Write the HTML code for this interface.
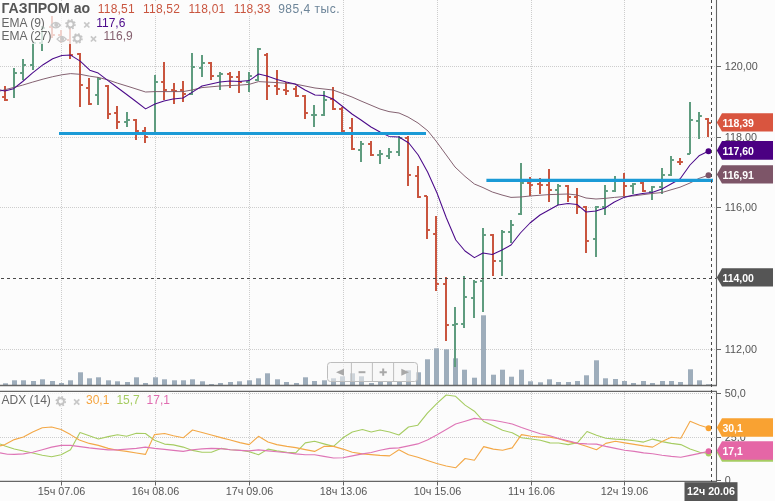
<!DOCTYPE html><html><head><meta charset="utf-8"><title>chart</title><style>html,body{margin:0;padding:0;background:#fcfcfc;overflow:hidden}svg{display:block;will-change:transform}text{font-family:"Liberation Sans",sans-serif}</style></head><body>
<svg width="775" height="501" viewBox="0 0 775 501">
<rect width="775" height="501" fill="#fcfcfc"/>
<g stroke="#cdcdcd" stroke-width="1" stroke-dasharray="1 1" fill="none">
<line x1="0" y1="66.5" x2="716" y2="66.5"/>
<line x1="0" y1="137.5" x2="716" y2="137.5"/>
<line x1="0" y1="207.5" x2="716" y2="207.5"/>
<line x1="0" y1="349.5" x2="716" y2="349.5"/>
<line x1="0" y1="393.5" x2="716" y2="393.5"/>
<line x1="0" y1="437.5" x2="716" y2="437.5"/>
</g>
<g stroke="#cdcdcd" stroke-width="1" stroke-dasharray="1 1" fill="none">
<line x1="61.5" y1="0" x2="61.5" y2="385"/>
<line x1="61.5" y1="392" x2="61.5" y2="481"/>
<line x1="155.5" y1="0" x2="155.5" y2="385"/>
<line x1="155.5" y1="392" x2="155.5" y2="481"/>
<line x1="249.5" y1="0" x2="249.5" y2="385"/>
<line x1="249.5" y1="392" x2="249.5" y2="481"/>
<line x1="343.5" y1="0" x2="343.5" y2="385"/>
<line x1="343.5" y1="392" x2="343.5" y2="481"/>
<line x1="437.5" y1="0" x2="437.5" y2="385"/>
<line x1="437.5" y1="392" x2="437.5" y2="481"/>
<line x1="531.5" y1="0" x2="531.5" y2="385"/>
<line x1="531.5" y1="392" x2="531.5" y2="481"/>
<line x1="624.5" y1="0" x2="624.5" y2="385"/>
<line x1="624.5" y1="392" x2="624.5" y2="481"/>
</g>
<g fill="#9eadbb">
<rect x="3" y="383.3" width="5" height="2.0"/>
<rect x="12" y="380.3" width="5" height="5.0"/>
<rect x="21" y="380.3" width="5" height="5.0"/>
<rect x="31" y="381.0" width="5" height="4.3"/>
<rect x="40" y="379.3" width="5" height="6.0"/>
<rect x="50" y="381.0" width="5" height="4.3"/>
<rect x="59" y="383.0" width="5" height="2.3"/>
<rect x="68" y="380.3" width="5" height="5.0"/>
<rect x="78" y="372.3" width="5" height="13.0"/>
<rect x="87" y="378.3" width="5" height="7.0"/>
<rect x="96" y="377.3" width="5" height="8.0"/>
<rect x="106" y="380.3" width="5" height="5.0"/>
<rect x="115" y="381.3" width="5" height="4.0"/>
<rect x="125" y="382.0" width="5" height="3.3"/>
<rect x="134" y="377.3" width="5" height="8.0"/>
<rect x="143" y="383.0" width="5" height="2.3"/>
<rect x="153" y="377.3" width="5" height="8.0"/>
<rect x="162" y="379.3" width="5" height="6.0"/>
<rect x="172" y="380.3" width="5" height="5.0"/>
<rect x="181" y="380.3" width="5" height="5.0"/>
<rect x="190" y="379.3" width="5" height="6.0"/>
<rect x="200" y="381.3" width="5" height="4.0"/>
<rect x="209" y="384.0" width="5" height="1.3"/>
<rect x="218" y="383.0" width="5" height="2.3"/>
<rect x="228" y="382.0" width="5" height="3.3"/>
<rect x="237" y="381.3" width="5" height="4.0"/>
<rect x="247" y="380.3" width="5" height="5.0"/>
<rect x="256" y="378.3" width="5" height="7.0"/>
<rect x="265" y="373.3" width="5" height="12.0"/>
<rect x="275" y="379.3" width="5" height="6.0"/>
<rect x="284" y="382.0" width="5" height="3.3"/>
<rect x="294" y="383.0" width="5" height="2.3"/>
<rect x="303" y="377.3" width="5" height="8.0"/>
<rect x="312" y="381.0" width="5" height="4.3"/>
<rect x="322" y="380.3" width="5" height="5.0"/>
<rect x="331" y="378.3" width="5" height="7.0"/>
<rect x="340" y="376.3" width="5" height="9.0"/>
<rect x="350" y="373.3" width="5" height="12.0"/>
<rect x="359" y="376.3" width="5" height="9.0"/>
<rect x="369" y="383.0" width="5" height="2.3"/>
<rect x="378" y="381.3" width="5" height="4.0"/>
<rect x="387" y="381.3" width="5" height="4.0"/>
<rect x="397" y="381.3" width="5" height="4.0"/>
<rect x="406" y="370.3" width="5" height="15.0"/>
<rect x="416" y="372.3" width="5" height="13.0"/>
<rect x="425" y="359.3" width="5" height="26.0"/>
<rect x="434" y="348.3" width="5" height="37.0"/>
<rect x="444" y="349.3" width="5" height="36.0"/>
<rect x="453" y="358.3" width="5" height="27.0"/>
<rect x="462" y="369.7" width="5" height="15.6"/>
<rect x="472" y="377.7" width="5" height="7.6"/>
<rect x="481" y="315.3" width="5" height="70.0"/>
<rect x="491" y="374.7" width="5" height="10.6"/>
<rect x="500" y="369.7" width="5" height="15.6"/>
<rect x="509" y="376.7" width="5" height="8.6"/>
<rect x="519" y="369.7" width="5" height="15.6"/>
<rect x="528" y="381.3" width="5" height="4.0"/>
<rect x="538" y="382.3" width="5" height="3.0"/>
<rect x="547" y="379.3" width="5" height="6.0"/>
<rect x="556" y="382.0" width="5" height="3.3"/>
<rect x="566" y="382.0" width="5" height="3.3"/>
<rect x="575" y="381.0" width="5" height="4.3"/>
<rect x="584" y="375.3" width="5" height="10.0"/>
<rect x="594" y="360.3" width="5" height="25.0"/>
<rect x="603" y="378.3" width="5" height="7.0"/>
<rect x="613" y="379.0" width="5" height="6.3"/>
<rect x="622" y="381.0" width="5" height="4.3"/>
<rect x="631" y="383.0" width="5" height="2.3"/>
<rect x="641" y="381.0" width="5" height="4.3"/>
<rect x="650" y="383.0" width="5" height="2.3"/>
<rect x="660" y="381.0" width="5" height="4.3"/>
<rect x="669" y="381.0" width="5" height="4.3"/>
<rect x="678" y="382.0" width="5" height="3.3"/>
<rect x="688" y="369.3" width="5" height="16.0"/>
<rect x="697" y="380.3" width="5" height="5.0"/>
<rect x="706" y="384.3" width="5" height="1.0"/>
</g>
<path d="M5.0 86.0V101.0M2.1 97.0H5.0M5.0 100.0H7.9" stroke="#c9553f" stroke-width="2" fill="none"/>
<path d="M14.0 68.0V98.0M14.0 73.0H16.9" stroke="#5f9c7f" stroke-width="2" fill="none"/>
<path d="M23.0 59.0V80.0M20.1 73.0H23.0M23.0 65.0H25.9" stroke="#5f9c7f" stroke-width="2" fill="none"/>
<path d="M33.0 41.0V70.0M30.1 65.0H33.0M33.0 43.0H35.9" stroke="#5f9c7f" stroke-width="2" fill="none"/>
<path d="M42.0 26.0V51.0M39.1 43.0H42.0M42.0 28.0H44.9" stroke="#5f9c7f" stroke-width="2" fill="none"/>
<path d="M52.0 16.0V38.0M49.1 27.0H52.0M52.0 35.0H54.9" stroke="#c9553f" stroke-width="2" fill="none"/>
<path d="M61.0 30.0V43.0M58.1 35.0H61.0M61.0 40.0H63.9" stroke="#c9553f" stroke-width="2" fill="none"/>
<path d="M70.0 28.0V59.0M67.1 40.0H70.0M70.0 55.0H72.9" stroke="#c9553f" stroke-width="2" fill="none"/>
<path d="M80.0 53.0V107.0M77.1 54.0H80.0M80.0 85.0H82.9" stroke="#c9553f" stroke-width="2" fill="none"/>
<path d="M89.0 78.0V105.0M86.1 88.0H89.0M89.0 104.0H91.9" stroke="#c9553f" stroke-width="2" fill="none"/>
<path d="M98.0 77.0V105.0M95.1 95.0H98.0M98.0 79.0H100.9" stroke="#5f9c7f" stroke-width="2" fill="none"/>
<path d="M108.0 85.0V119.0M105.1 86.0H108.0M108.0 114.0H110.9" stroke="#c9553f" stroke-width="2" fill="none"/>
<path d="M117.0 106.0V129.0M114.1 113.0H117.0M117.0 122.0H119.9" stroke="#c9553f" stroke-width="2" fill="none"/>
<path d="M127.0 112.0V127.0M124.1 122.0H127.0M127.0 120.0H129.9" stroke="#5f9c7f" stroke-width="2" fill="none"/>
<path d="M136.0 119.0V140.0M133.1 120.0H136.0M136.0 131.0H138.9" stroke="#c9553f" stroke-width="2" fill="none"/>
<path d="M145.0 127.0V143.0M142.1 131.0H145.0M145.0 137.0H147.9" stroke="#c9553f" stroke-width="2" fill="none"/>
<path d="M155.0 75.0V133.0M152.1 134.0H155.0M155.0 82.0H157.9" stroke="#5f9c7f" stroke-width="2" fill="none"/>
<path d="M164.0 62.0V100.0M161.1 82.0H164.0M164.0 90.0H166.9" stroke="#c9553f" stroke-width="2" fill="none"/>
<path d="M174.0 83.0V104.0M171.1 90.0H174.0M174.0 91.0H176.9" stroke="#c9553f" stroke-width="2" fill="none"/>
<path d="M183.0 81.0V102.0M180.1 90.0H183.0M183.0 94.0H185.9" stroke="#c9553f" stroke-width="2" fill="none"/>
<path d="M192.0 53.0V95.0M189.1 94.0H192.0M192.0 67.0H194.9" stroke="#5f9c7f" stroke-width="2" fill="none"/>
<path d="M202.0 55.0V77.0M199.1 68.0H202.0M202.0 63.0H204.9" stroke="#5f9c7f" stroke-width="2" fill="none"/>
<path d="M211.0 62.0V80.0M208.1 63.0H211.0M211.0 76.0H213.9" stroke="#c9553f" stroke-width="2" fill="none"/>
<path d="M220.0 72.0V90.0M217.1 76.0H220.0M220.0 74.0H222.9" stroke="#5f9c7f" stroke-width="2" fill="none"/>
<path d="M230.0 72.0V88.0M227.1 74.0H230.0M230.0 77.0H232.9" stroke="#c9553f" stroke-width="2" fill="none"/>
<path d="M239.0 71.0V93.0M236.1 77.0H239.0M239.0 82.0H241.9" stroke="#c9553f" stroke-width="2" fill="none"/>
<path d="M249.0 72.0V92.0M246.1 82.0H249.0M249.0 76.0H251.9" stroke="#5f9c7f" stroke-width="2" fill="none"/>
<path d="M258.0 48.0V81.0M255.1 80.0H258.0M258.0 49.0H260.9" stroke="#5f9c7f" stroke-width="2" fill="none"/>
<path d="M267.0 53.0V100.0M264.1 55.0H267.0M267.0 86.0H269.9" stroke="#c9553f" stroke-width="2" fill="none"/>
<path d="M277.0 70.0V95.0M274.1 86.0H277.0M277.0 89.0H279.9" stroke="#c9553f" stroke-width="2" fill="none"/>
<path d="M286.0 82.0V95.0M283.1 90.0H286.0M286.0 91.0H288.9" stroke="#c9553f" stroke-width="2" fill="none"/>
<path d="M296.0 86.0V97.0M293.1 89.0H296.0M296.0 96.0H298.9" stroke="#c9553f" stroke-width="2" fill="none"/>
<path d="M305.0 95.0V119.0M302.1 96.0H305.0M305.0 113.0H307.9" stroke="#c9553f" stroke-width="2" fill="none"/>
<path d="M314.0 105.0V127.0M311.1 115.0H314.0M314.0 115.0H316.9" stroke="#5f9c7f" stroke-width="2" fill="none"/>
<path d="M324.0 91.0V116.0M321.1 115.0H324.0M324.0 100.0H326.9" stroke="#5f9c7f" stroke-width="2" fill="none"/>
<path d="M333.0 87.0V110.0M330.1 99.0H333.0M333.0 109.0H335.9" stroke="#c9553f" stroke-width="2" fill="none"/>
<path d="M342.0 107.0V132.0M339.1 109.0H342.0M342.0 131.0H344.9" stroke="#c9553f" stroke-width="2" fill="none"/>
<path d="M352.0 118.0V150.0M349.1 128.0H352.0M352.0 149.0H354.9" stroke="#c9553f" stroke-width="2" fill="none"/>
<path d="M361.0 141.0V162.0M358.1 150.0H361.0M361.0 144.0H363.9" stroke="#5f9c7f" stroke-width="2" fill="none"/>
<path d="M371.0 141.0V156.0M368.1 144.0H371.0M371.0 155.0H373.9" stroke="#c9553f" stroke-width="2" fill="none"/>
<path d="M380.0 150.0V164.0M377.1 155.0H380.0M380.0 154.0H382.9" stroke="#5f9c7f" stroke-width="2" fill="none"/>
<path d="M389.0 148.0V159.0M386.1 156.0H389.0M389.0 152.0H391.9" stroke="#5f9c7f" stroke-width="2" fill="none"/>
<path d="M399.0 136.0V156.0M396.1 152.0H399.0M399.0 138.0H401.9" stroke="#5f9c7f" stroke-width="2" fill="none"/>
<path d="M408.0 136.0V186.0M405.1 138.0H408.0M408.0 175.0H410.9" stroke="#c9553f" stroke-width="2" fill="none"/>
<path d="M418.0 166.0V198.0M415.1 176.0H418.0M418.0 197.0H420.9" stroke="#c9553f" stroke-width="2" fill="none"/>
<path d="M427.0 196.0V239.0M424.1 196.0H427.0M427.0 230.0H429.9" stroke="#c9553f" stroke-width="2" fill="none"/>
<path d="M436.0 216.0V291.0M433.1 234.0H436.0M436.0 284.0H438.9" stroke="#c9553f" stroke-width="2" fill="none"/>
<path d="M446.0 277.0V341.0M443.1 284.0H446.0M446.0 325.0H448.9" stroke="#c9553f" stroke-width="2" fill="none"/>
<path d="M455.0 307.0V367.0M452.1 325.0H455.0M455.0 324.0H457.9" stroke="#5f9c7f" stroke-width="2" fill="none"/>
<path d="M464.0 276.0V328.0M461.1 324.0H464.0M464.0 297.0H466.9" stroke="#5f9c7f" stroke-width="2" fill="none"/>
<path d="M474.0 280.0V318.0M471.1 298.0H474.0M474.0 282.0H476.9" stroke="#5f9c7f" stroke-width="2" fill="none"/>
<path d="M483.0 228.0V312.0M480.1 281.0H483.0M483.0 235.0H485.9" stroke="#5f9c7f" stroke-width="2" fill="none"/>
<path d="M493.0 234.0V276.0M490.1 235.0H493.0M493.0 261.0H495.9" stroke="#c9553f" stroke-width="2" fill="none"/>
<path d="M502.0 230.0V276.0M499.1 261.0H502.0M502.0 232.0H504.9" stroke="#5f9c7f" stroke-width="2" fill="none"/>
<path d="M511.0 220.0V243.0M508.1 232.0H511.0M511.0 225.0H513.9" stroke="#5f9c7f" stroke-width="2" fill="none"/>
<path d="M521.0 163.0V215.0M518.1 214.0H521.0M521.0 183.0H523.9" stroke="#5f9c7f" stroke-width="2" fill="none"/>
<path d="M530.0 177.0V196.0M527.1 183.0H530.0M530.0 185.0H532.9" stroke="#c9553f" stroke-width="2" fill="none"/>
<path d="M540.0 178.0V194.0M537.1 184.0H540.0M540.0 185.0H542.9" stroke="#c9553f" stroke-width="2" fill="none"/>
<path d="M549.0 169.0V202.0M546.1 185.0H549.0M549.0 190.0H551.9" stroke="#c9553f" stroke-width="2" fill="none"/>
<path d="M558.0 184.0V205.0M555.1 190.0H558.0M558.0 186.0H560.9" stroke="#5f9c7f" stroke-width="2" fill="none"/>
<path d="M568.0 185.0V202.0M565.1 186.0H568.0M568.0 197.0H570.9" stroke="#c9553f" stroke-width="2" fill="none"/>
<path d="M577.0 188.0V214.0M574.1 197.0H577.0M577.0 207.0H579.9" stroke="#c9553f" stroke-width="2" fill="none"/>
<path d="M586.0 206.0V253.0M583.1 207.0H586.0M586.0 241.0H588.9" stroke="#c9553f" stroke-width="2" fill="none"/>
<path d="M596.0 206.0V257.0M593.1 239.0H596.0M596.0 207.0H598.9" stroke="#5f9c7f" stroke-width="2" fill="none"/>
<path d="M605.0 185.0V215.0M602.1 207.0H605.0M605.0 191.0H607.9" stroke="#5f9c7f" stroke-width="2" fill="none"/>
<path d="M615.0 176.0V192.0M612.1 191.0H615.0M615.0 180.0H617.9" stroke="#5f9c7f" stroke-width="2" fill="none"/>
<path d="M624.0 173.0V196.0M621.1 180.0H624.0M624.0 186.0H626.9" stroke="#c9553f" stroke-width="2" fill="none"/>
<path d="M633.0 183.0V194.0M630.1 186.0H633.0M633.0 184.0H635.9" stroke="#5f9c7f" stroke-width="2" fill="none"/>
<path d="M643.0 182.0V192.0M640.1 183.0H643.0M643.0 191.0H645.9" stroke="#c9553f" stroke-width="2" fill="none"/>
<path d="M652.0 186.0V200.0M649.1 192.0H652.0M652.0 187.0H654.9" stroke="#5f9c7f" stroke-width="2" fill="none"/>
<path d="M662.0 168.0V194.0M659.1 187.0H662.0M662.0 175.0H664.9" stroke="#5f9c7f" stroke-width="2" fill="none"/>
<path d="M671.0 156.0V176.0M668.1 175.0H671.0M671.0 160.0H673.9" stroke="#5f9c7f" stroke-width="2" fill="none"/>
<path d="M680.0 158.0V165.0M677.1 162.0H680.0M680.0 162.0H682.9" stroke="#c9553f" stroke-width="2" fill="none"/>
<path d="M690.0 102.0V154.0M687.1 154.0H690.0M690.0 120.0H692.9" stroke="#5f9c7f" stroke-width="2" fill="none"/>
<path d="M699.0 112.0V139.0M696.1 121.0H699.0M699.0 116.0H701.9" stroke="#5f9c7f" stroke-width="2" fill="none"/>
<path d="M708.0 118.0V137.0M705.1 119.0H708.0M708.0 123.0H710.9" stroke="#c9553f" stroke-width="2" fill="none"/>
<polyline points="0.0,91.0 13.6,87.5 22.7,85.1 32.3,82.2 43.1,79.1 52.7,76.7 61.8,74.8 70.6,73.6 80.2,74.3 89.8,76.2 98.2,77.4 107.7,79.8 117.3,83.1 130.0,87.0 145.6,92.0 155.0,91.6 183.0,91.6 192.0,90.0 202.0,87.6 220.0,86.0 239.0,85.2 249.0,84.4 258.6,81.6 277.0,82.6 295.0,84.0 315.0,88.0 324.0,89.0 333.0,90.0 343.0,93.6 352.0,97.0 361.0,101.0 380.0,109.0 389.0,111.6 399.0,113.0 408.0,117.0 418.0,123.0 428.0,131.0 436.0,141.0 447.0,156.0 455.0,167.0 465.0,176.4 474.4,184.0 483.0,187.6 492.3,192.0 502.0,195.0 511.0,197.4 520.4,197.0 530.0,196.0 549.0,194.6 568.0,194.0 577.0,195.0 586.0,198.0 596.0,199.0 605.0,198.4 614.4,197.4 624.0,196.6 632.6,196.0 652.0,193.5 662.0,192.5 671.0,189.8 680.0,187.2 690.0,183.0 699.0,178.4 708.3,175.3" fill="none" stroke="#7d5a69" stroke-width="0.95" stroke-linejoin="round"/>
<polyline points="0.0,89.9 4.8,91.0 13.6,88.7 22.7,81.5 32.3,73.1 43.1,64.7 52.7,58.7 61.8,55.4 70.6,55.1 80.2,61.1 89.8,70.2 98.2,73.1 107.7,80.3 117.3,87.5 126.7,94.5 136.0,101.5 145.6,108.9 155.0,104.0 164.0,101.0 173.0,99.0 183.0,98.0 192.0,92.4 202.0,86.0 211.0,84.0 220.0,82.0 230.0,81.0 239.0,81.4 249.0,80.6 258.6,74.0 267.0,76.0 277.0,79.4 286.3,82.0 295.0,84.0 305.0,90.0 315.0,95.0 324.0,95.6 333.0,99.0 342.0,106.0 352.0,114.0 361.0,120.0 371.0,127.0 380.0,132.0 389.0,136.4 399.0,137.0 408.8,143.0 418.2,155.0 427.6,172.0 437.0,193.0 446.4,218.0 455.8,240.0 465.0,251.0 474.4,257.6 483.0,253.0 492.3,254.4 502.0,250.0 511.0,245.0 520.4,233.0 530.0,223.0 540.0,215.0 549.0,210.0 558.0,205.0 568.0,203.6 577.0,204.4 586.0,212.0 596.0,211.0 605.0,208.0 614.4,202.0 624.0,197.4 632.6,195.2 642.6,193.5 652.0,192.5 662.0,189.0 671.0,184.0 680.0,179.0 690.0,165.0 699.0,155.8 708.3,151.2" fill="none" stroke="#4b0a8a" stroke-width="1.05" stroke-linejoin="round"/>
<circle cx="708.5" cy="151.2" r="3" fill="#4b0082"/><circle cx="708.5" cy="175.2" r="3" fill="#7d5568"/>
<line x1="59" y1="133.5" x2="426" y2="133.5" stroke="#1b9ad6" stroke-width="3.2"/>
<line x1="486.4" y1="180.4" x2="713" y2="180.4" stroke="#1b9ad6" stroke-width="3.2"/>
<polyline points="0.0,443.9 5.0,445.9 14.3,449.0 23.4,451.0 32.7,453.0 42.3,455.2 51.6,456.7 61.1,454.7 70.5,449.7 80.0,432.5 89.3,435.8 98.4,439.0 108.2,436.6 117.5,434.8 126.6,436.3 136.4,433.3 145.4,433.5 154.5,440.3 164.6,444.1 173.4,444.9 183.2,447.1 192.5,450.4 202.1,452.2 211.4,452.2 221.0,448.4 230.3,449.7 239.9,450.2 249.2,451.7 258.5,454.7 268.0,449.1 276.8,450.9 286.9,452.2 295.7,452.9 305.3,442.9 314.6,441.3 323.9,443.9 333.5,446.4 343.0,437.8 352.3,432.0 362.4,429.5 371.2,432.0 380.0,430.0 389.6,432.0 398.9,435.0 408.5,427.0 417.8,425.2 427.4,413.2 436.7,403.6 446.2,395.0 455.6,396.3 465.1,405.1 474.4,411.2 483.7,421.5 493.3,425.7 502.6,430.3 512.2,432.8 521.5,437.8 531.0,439.0 540.4,440.3 549.9,442.9 558.7,443.0 568.1,444.6 577.6,442.6 587.0,431.5 596.5,435.3 605.8,438.3 615.4,439.1 624.7,439.6 634.3,440.8 643.6,442.1 652.6,439.1 662.0,441.6 671.3,443.4 680.8,444.6 690.1,449.1 699.7,452.2 708.6,453.4" fill="none" stroke="#a6cc62" stroke-width="1.1" stroke-linejoin="round"/>
<polyline points="0.0,445.9 5.0,444.6 14.3,439.6 23.4,437.0 32.7,432.0 42.3,427.8 51.6,427.0 61.1,429.5 70.5,434.6 79.3,440.0 89.3,443.4 98.4,445.4 108.2,448.4 117.5,450.2 126.6,451.4 136.4,453.0 145.4,454.4 154.5,434.6 164.6,433.5 173.4,435.8 183.2,437.8 192.5,430.0 202.1,432.5 211.4,435.0 221.0,437.6 230.3,440.0 239.9,442.6 249.2,444.6 258.5,436.3 268.0,442.0 276.8,444.6 286.9,446.4 295.7,447.6 305.3,449.6 314.6,451.4 323.9,446.4 333.5,446.4 343.0,449.1 352.3,452.2 362.4,453.9 371.2,454.6 380.0,455.4 389.6,455.9 398.9,449.7 408.5,454.7 417.8,457.2 427.4,460.5 436.7,463.5 446.2,466.0 455.6,467.8 465.1,458.5 474.4,460.2 483.7,446.6 493.3,449.1 502.6,450.2 512.2,447.9 521.5,434.6 531.0,436.3 540.4,437.1 549.9,437.1 558.7,438.8 568.1,441.6 577.6,443.4 587.0,446.4 596.5,449.7 605.8,443.4 615.4,441.3 624.7,442.9 634.3,444.4 643.6,445.9 652.6,447.1 662.0,441.6 671.3,437.3 680.8,438.3 690.1,421.2 699.7,425.2 708.6,428.0" fill="none" stroke="#f3a847" stroke-width="1.1" stroke-linejoin="round"/>
<polyline points="0.0,452.9 7.5,454.2 14.3,454.4 23.4,453.9 32.7,452.2 42.3,449.7 51.6,447.1 61.1,445.4 70.5,445.4 80.0,446.6 89.3,447.9 98.4,448.9 108.2,449.9 117.5,449.9 126.6,449.1 136.4,448.4 145.4,447.1 154.5,448.4 164.6,449.4 173.4,450.4 183.2,451.4 192.5,449.7 202.1,448.9 211.4,448.4 221.0,448.6 230.3,449.7 239.9,450.4 249.2,450.9 258.5,449.9 268.0,450.9 276.8,451.7 286.9,452.7 295.7,453.9 305.3,454.7 314.6,454.7 323.9,456.4 333.5,458.0 343.0,457.7 352.3,455.9 362.4,453.9 371.2,452.5 380.0,450.2 389.6,448.4 398.9,447.9 408.5,445.9 417.8,443.9 427.4,440.0 436.7,435.0 446.2,429.5 455.6,424.0 465.1,421.2 474.4,418.4 483.7,419.5 493.3,420.2 502.6,422.0 512.2,424.0 521.5,427.5 531.0,430.8 540.4,433.8 549.9,435.8 558.7,438.6 568.1,440.8 577.6,443.4 587.0,443.9 596.5,444.1 605.8,446.4 615.4,448.4 624.7,450.2 634.3,451.4 643.6,452.9 652.6,453.7 662.0,455.2 671.3,456.4 680.8,457.2 690.1,455.4 699.7,453.4 708.6,451.2" fill="none" stroke="#de75b6" stroke-width="1.1" stroke-linejoin="round"/>
<circle cx="708.6" cy="453.6" r="3" fill="#a6cc62"/><circle cx="708.6" cy="428.2" r="3" fill="#f9a232"/><circle cx="708.6" cy="451.2" r="3" fill="#e365a5"/>
<g stroke="#666" fill="none">
<line x1="0" y1="385.5" x2="717" y2="385.5" stroke-width="1.4"/>
<line x1="0" y1="391.4" x2="717" y2="391.4" stroke-width="1.2"/>
<line x1="0" y1="481.4" x2="717" y2="481.4" stroke-width="1.3"/>
<line x1="716.5" y1="0" x2="716.5" y2="385.5" stroke-width="1.1"/>
<line x1="716.5" y1="391.4" x2="716.5" y2="482" stroke-width="1.1"/>
<line x1="716.5" y1="66.5" x2="721" y2="66.5" stroke-width="1"/>
<line x1="716.5" y1="137.5" x2="721" y2="137.5" stroke-width="1"/>
<line x1="716.5" y1="207.5" x2="721" y2="207.5" stroke-width="1"/>
<line x1="716.5" y1="349.5" x2="721" y2="349.5" stroke-width="1"/>
<line x1="716.5" y1="393.5" x2="721" y2="393.5" stroke-width="1"/>
<line x1="716.5" y1="437.5" x2="721" y2="437.5" stroke-width="1"/>
<line x1="716.5" y1="480.5" x2="721" y2="480.5" stroke-width="1"/>
<line x1="61.5" y1="481.4" x2="61.5" y2="485.5" stroke-width="1"/>
<line x1="155.5" y1="481.4" x2="155.5" y2="485.5" stroke-width="1"/>
<line x1="249.5" y1="481.4" x2="249.5" y2="485.5" stroke-width="1"/>
<line x1="343.5" y1="481.4" x2="343.5" y2="485.5" stroke-width="1"/>
<line x1="437.5" y1="481.4" x2="437.5" y2="485.5" stroke-width="1"/>
<line x1="531.5" y1="481.4" x2="531.5" y2="485.5" stroke-width="1"/>
<line x1="624.5" y1="481.4" x2="624.5" y2="485.5" stroke-width="1"/>
</g>
<line x1="711.5" y1="0" x2="711.5" y2="482" stroke="#4a4a4a" stroke-width="1" stroke-dasharray="3 3"/>
<line x1="1" y1="278.5" x2="716" y2="278.5" stroke="#4a4a4a" stroke-width="1" stroke-dasharray="3 3"/>
<g font-size="10.8" fill="#555">
<text x="724.7" y="70.0">120,00</text>
<text x="724.7" y="140.8">118,00</text>
<text x="724.7" y="211.2">116,00</text>
<text x="724.7" y="352.8">112,00</text>
<text x="724.7" y="397.1">50,0</text>
<text x="724.7" y="441.1">25,0</text>
<text x="724.7" y="484.1">0</text>
<text x="61.5" y="495" text-anchor="middle">15ч 07.06</text>
<text x="155.5" y="495" text-anchor="middle">16ч 08.06</text>
<text x="249.5" y="495" text-anchor="middle">17ч 09.06</text>
<text x="343.5" y="495" text-anchor="middle">18ч 13.06</text>
<text x="437.5" y="495" text-anchor="middle">10ч 15.06</text>
<text x="531.5" y="495" text-anchor="middle">11ч 16.06</text>
<text x="624.5" y="495" text-anchor="middle">12ч 19.06</text>
</g>
<path d="M716.8 122.4L722 113.2H773V131.6H722Z" fill="#d9553f"/>
<text x="722.4" y="127.0" font-size="10.5" font-weight="bold" fill="#fff">118,39</text>
<path d="M716.8 150.4L722 141.1H773V159.7H722Z" fill="#4b0082"/>
<text x="722.4" y="155.0" font-size="10.5" font-weight="bold" fill="#fff">117,60</text>
<path d="M716.8 174.4L722 165.2H773V183.6H722Z" fill="#7d5568"/>
<text x="722.4" y="179.0" font-size="10.5" font-weight="bold" fill="#fff">116,91</text>
<path d="M716.8 277.4L722 268.2H773V286.5H722Z" fill="#555555"/>
<text x="722.4" y="282.0" font-size="10.5" font-weight="bold" fill="#fff">114,00</text>
<path d="M716.8 452.5L722 443.2H773V461.8H722Z" fill="#a6cc62"/>
<text x="722.4" y="457.1" font-size="10.5" font-weight="bold" fill="#fff">15,7</text>
<path d="M716.8 427.5L722 418.3H773V436.7H722Z" fill="#f9a232"/>
<text x="722.4" y="432.1" font-size="10.5" font-weight="bold" fill="#fff">30,1</text>
<path d="M716.8 450.5L722 441.2H773V459.8H722Z" fill="#e566a6"/>
<text x="722.4" y="455.1" font-size="10.5" font-weight="bold" fill="#fff">17,1</text>
<rect x="684.5" y="482.2" width="53" height="19" fill="#555"/>
<text x="711" y="495" font-size="10.7" font-weight="bold" fill="#fff" text-anchor="middle">12ч 20.06</text>
<g><rect x="327.5" y="362.5" width="90" height="19" rx="3" fill="#f4f4f4" fill-opacity="0.55" stroke="#bdbdbd" stroke-width="1"/>
<line x1="351.4" y1="362.5" x2="351.4" y2="381.5" stroke="#bdbdbd" stroke-width="1"/>
<line x1="372.4" y1="362.5" x2="372.4" y2="381.5" stroke="#bdbdbd" stroke-width="1"/>
<line x1="393.6" y1="362.5" x2="393.6" y2="381.5" stroke="#bdbdbd" stroke-width="1"/>
<path d="M344 368.7V375.7L336 372.2Z" fill="#a8a8a8"/><path d="M401.3 368.7V375.7L409 372.2Z" fill="#a8a8a8"/>
<path d="M358.6 372.2H365.4" stroke="#a8a8a8" stroke-width="2"/><path d="M379.6 372.2H386.8M383.2 368.6V375.8" stroke="#a8a8a8" stroke-width="2"/></g>
<rect x="0" y="1" width="342" height="15" fill="#fcfcfc" fill-opacity="0.75"/>
<rect x="0" y="16" width="129" height="14" fill="#fcfcfc" fill-opacity="0.75"/>
<rect x="0" y="30" width="136" height="14" fill="#fcfcfc" fill-opacity="0.75"/>
<rect x="0" y="393" width="172" height="15" fill="#fcfcfc" fill-opacity="0.75"/>
<text x="1.5" y="13.4" font-size="14" font-weight="bold" fill="#555" textLength="88.6" lengthAdjust="spacingAndGlyphs">ГАЗПРОМ ао</text>
<g font-size="12">
<text x="97.8" y="13.4" fill="#c9553f" letter-spacing="0.2">118,51</text>
<text x="143.1" y="13.4" fill="#c9553f" letter-spacing="0.2">118,52</text>
<text x="188.4" y="13.4" fill="#c9553f" letter-spacing="0.2">118,01</text>
<text x="233.7" y="13.4" fill="#c9553f" letter-spacing="0.2">118,33</text>
<text x="278.2" y="13.4" fill="#6d8599" letter-spacing="0.5">985,4 тыс.</text>
<text x="1.5" y="26.5" fill="#666">EMA (9)</text><text x="96.2" y="26.5" fill="#4b0a8a">117,6</text>
<text x="1.5" y="40.4" fill="#666">EMA (27)</text><text x="103.5" y="40.4" fill="#85606f">116,9</text>
<text x="1.5" y="403.8" fill="#666">ADX (14)</text><text x="86" y="403.8" fill="#f5a540">30,1</text><text x="116.4" y="403.8" fill="#a6cc62">15,7</text><text x="146.6" y="403.8" fill="#e06cb0">17,1</text>
</g>
<path d="M51.2 25.2Q55.8 19.8 60.4 25.2Q55.8 30.6 51.2 25.2Z" fill="none" stroke="#c8c8c8" stroke-width="1.4"/><circle cx="56.3" cy="24.9" r="2.1" fill="#c8c8c8"/>
<circle cx="70.5" cy="24.3" r="3.1" fill="none" stroke="#c4c4c4" stroke-width="1.9"/><circle cx="70.5" cy="24.3" r="4.5" fill="none" stroke="#c4c4c4" stroke-width="1.6" stroke-dasharray="1.767 1.767"/>
<path d="M84.2 22.3L89.4 27.5M89.4 22.3L84.2 27.5" stroke="#c8c8c8" stroke-width="1.7" fill="none"/>
<path d="M57.1 39.1Q61.7 33.7 66.3 39.1Q61.7 44.5 57.1 39.1Z" fill="none" stroke="#c8c8c8" stroke-width="1.4"/><circle cx="62.2" cy="38.800000000000004" r="2.1" fill="#c8c8c8"/>
<circle cx="77.5" cy="38.4" r="3.1" fill="none" stroke="#c4c4c4" stroke-width="1.9"/><circle cx="77.5" cy="38.4" r="4.5" fill="none" stroke="#c4c4c4" stroke-width="1.6" stroke-dasharray="1.767 1.767"/>
<path d="M90.9 36.3L96.1 41.5M96.1 36.3L90.9 41.5" stroke="#c8c8c8" stroke-width="1.7" fill="none"/>
<circle cx="60.8" cy="401.3" r="3.1" fill="none" stroke="#c4c4c4" stroke-width="1.9"/><circle cx="60.8" cy="401.3" r="4.5" fill="none" stroke="#c4c4c4" stroke-width="1.6" stroke-dasharray="1.767 1.767"/>
<path d="M74.1 399.4L79.3 404.6M79.3 399.4L74.1 404.6" stroke="#c8c8c8" stroke-width="1.7" fill="none"/>
</svg></body></html>
